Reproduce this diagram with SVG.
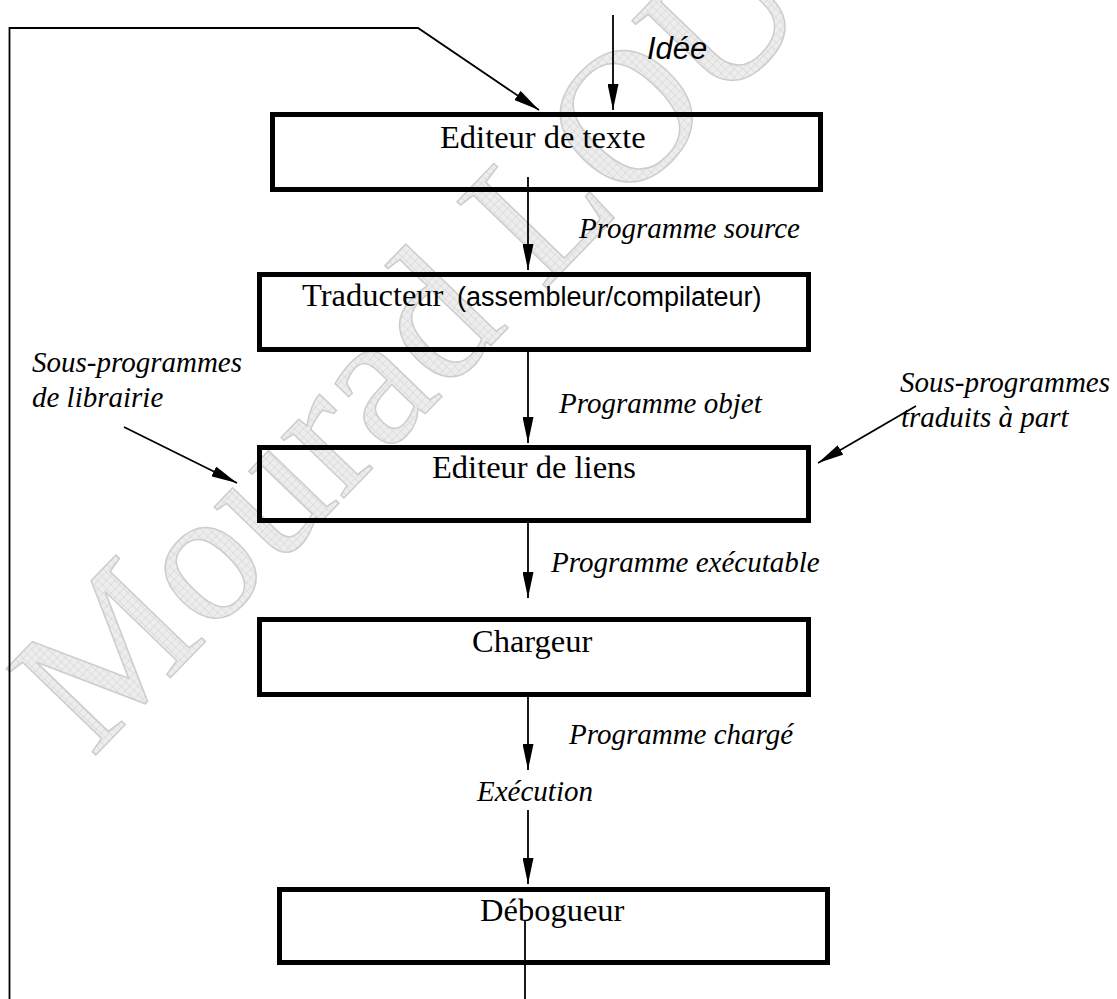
<svg xmlns="http://www.w3.org/2000/svg" width="1117" height="999" viewBox="0 0 1117 999">
<defs>
<pattern id="hatch" width="6" height="6" patternUnits="userSpaceOnUse"><rect width="6" height="6" fill="#ededed"/><path d="M0 0H6M0 0V6" stroke="#d2d2d2" stroke-width="1"/></pattern>
<marker id="ah" markerUnits="userSpaceOnUse" markerWidth="26" markerHeight="11" refX="26" refY="5.5" orient="auto"><path d="M0,0 L26,5.5 L0,11 Z" fill="#000"/></marker>
</defs>
<style>
.box{fill:none;stroke:#000;stroke-width:5}
.lbl{font-family:"Liberation Serif",serif;font-size:32.5px;fill:#000}
.it{font-family:"Liberation Serif",serif;font-style:italic;font-size:29px;fill:#000}
.sans{font-family:"Liberation Sans",Arial,sans-serif;fill:#000}
.con{fill:none;stroke:#000;stroke-width:1.8}
.wm{font-family:"Liberation Serif",serif;font-size:190px;fill:url(#hatch);stroke:#cdcdcd;stroke-width:1.5}
</style>
<rect width="1117" height="999" fill="#fff"/>
<text class="wm" transform="translate(92,759) rotate(-46)">Mourad LOU</text>
<g id="connectors">
<polyline class="con" points="9.5,999 9.5,28 418,28 539,110" marker-end="url(#ah)"/>
<line class="con" x1="613" y1="15" x2="613" y2="110" marker-end="url(#ah)"/>
<line class="con" x1="528" y1="177" x2="528" y2="270" marker-end="url(#ah)"/>
<line class="con" x1="528" y1="350" x2="528" y2="443" marker-end="url(#ah)"/>
<line class="con" x1="528" y1="523" x2="528" y2="598" marker-end="url(#ah)"/>
<line class="con" x1="528" y1="697" x2="528" y2="770" marker-end="url(#ah)"/>
<line class="con" x1="528" y1="810" x2="528" y2="884" marker-end="url(#ah)"/>
<line class="con" x1="525" y1="921" x2="525" y2="999"/>
<line class="con" x1="124" y1="427" x2="237" y2="483" marker-end="url(#ah)"/>
<line class="con" x1="916" y1="406" x2="818" y2="463" marker-end="url(#ah)"/>
</g>
<g id="idee"><text class="sans" x="647" y="59" font-size="31" font-style="italic">Idée</text></g>
<g id="editeur-texte">
<rect class="box" x="272.5" y="114.5" width="548" height="75"/>
<text class="lbl" x="440" y="148">Editeur de texte</text>
</g>
<g id="traducteur">
<rect class="box" x="259.5" y="274.5" width="549" height="75"/>
<text class="lbl" x="302" y="306">Traducteur</text>
<text class="sans" x="457" y="306" font-size="27">(assembleur/compilateur)</text>
</g>
<g id="editeur-liens">
<rect class="box" x="259.5" y="447.5" width="549" height="73"/>
<text class="lbl" x="432" y="478">Editeur de liens</text>
</g>
<g id="chargeur">
<rect class="box" x="259.5" y="619.5" width="549" height="75"/>
<text class="lbl" x="472" y="652">Chargeur</text>
</g>
<g id="debogueur">
<rect class="box" x="279.5" y="889.5" width="548" height="73"/>
<text class="lbl" x="480" y="921">Débogueur</text>
</g>
<g id="labels">
<text class="it" x="579" y="238">Programme source</text>
<text class="it" x="559" y="413">Programme objet</text>
<text class="it" x="551" y="572">Programme exécutable</text>
<text class="it" x="569" y="744">Programme chargé</text>
<text class="it" x="477" y="801">Exécution</text>
<text class="it" x="32" y="372">Sous-programmes</text>
<text class="it" x="32" y="407">de librairie</text>
<text class="it" x="900" y="392">Sous-programmes</text>
<text class="it" x="901" y="427">traduits à part</text>
</g>
</svg>
